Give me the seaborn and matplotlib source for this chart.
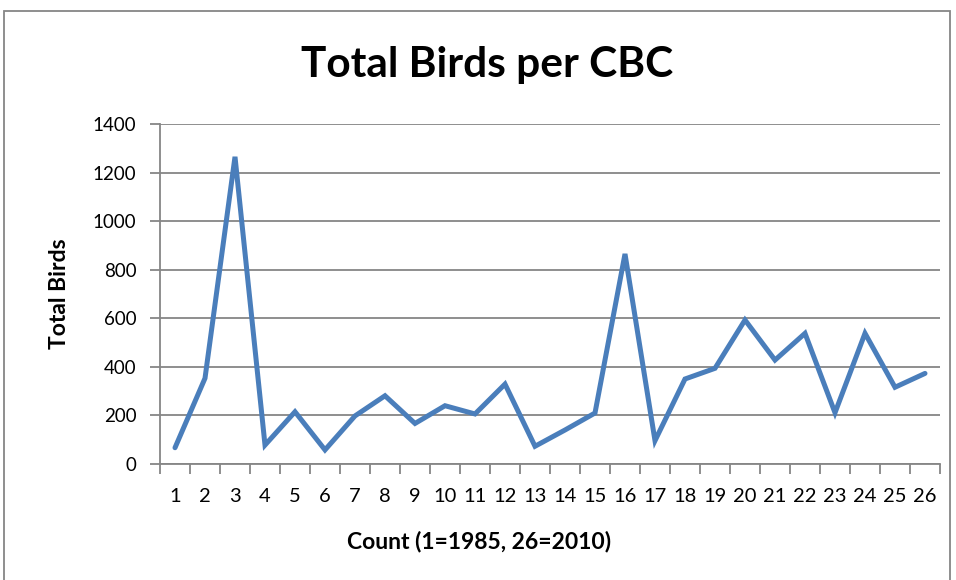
import matplotlib
matplotlib.use("Agg")
import matplotlib.pyplot as plt
import seaborn as sns
import pandas as pd
from matplotlib.patches import Rectangle

counts = list(range(1, 27))
total_birds = [67, 353, 1265, 78, 215, 58, 198, 281, 167, 240, 206, 329, 73,
               140, 210, 865, 96, 350, 394, 593, 428, 538, 211, 538, 316, 373]
yticks = [0, 200, 400, 600, 800, 1000, 1200, 1400]

df = pd.DataFrame({"Count": counts, "Total Birds": total_birds})

sns.set_theme(style="white")
plt.rcParams['font.family'] = ['Lato', 'DejaVu Sans']
plt.rcParams['text.color'] = 'black'
plt.rcParams['axes.labelcolor'] = 'black'

fig = plt.figure(figsize=(9.56, 5.8), dpi=100)
ax = fig.add_axes([160/956, 1-464/580, 780/956, 340/580])

grid_c = "#868686"
sns.lineplot(data=df, x="Count", y="Total Birds", ax=ax, color="#4A7EBB",
             linewidth=3.6, solid_joinstyle="miter")

ax.set_xlim(0.5, 26.5)
ax.set_ylim(0, 1400)
ax.set_yticks(yticks)
ax.set_yticklabels([str(v) for v in yticks], fontsize=13.5)
ax.set_xticks(counts)
ax.set_xticklabels([str(c) for c in counts], fontsize=14.5)
ax.set_xticks([c + 0.5 for c in range(0, 27)], minor=True)
ax.tick_params(axis="x", which="major", bottom=True, length=0, pad=17, labelcolor="black")
ax.tick_params(axis="x", which="minor", bottom=True, length=7, width=1.3, color=grid_c, direction="out")
ax.tick_params(axis="y", which="major", left=True, length=7, width=1.3, color=grid_c,
               direction="out", pad=10, labelcolor="black")
ax.grid(axis="y", color=grid_c, linewidth=1.3)
ax.set_axisbelow(True)
for s in ["top", "right"]:
    ax.spines[s].set_visible(False)
for s in ["left", "bottom"]:
    ax.spines[s].set_color(grid_c)
    ax.spines[s].set_linewidth(1.3)

ax.set_xlabel("Count (1=1985, 26=2010)", fontsize=16.5, fontweight="bold", color="black")
ax.xaxis.set_label_coords((479-160)/780, -(531-464)/340)
ax.set_ylabel("Total Birds", fontsize=16.5, fontweight="bold", color="black")
ax.yaxis.set_label_coords(-(160-70)/780, 0.5)
fig.text(487/956, 1-65/580, "Total Birds per CBC", ha="center", va="center",
         fontsize=30.5, fontweight="bold", color="black")

fig.patches.append(Rectangle((4/956, -0.05), 946/956, 1.05-11/580, transform=fig.transFigure,
                             fill=False, edgecolor=grid_c, linewidth=1.3))

fig.savefig("out.png", dpi=100)
